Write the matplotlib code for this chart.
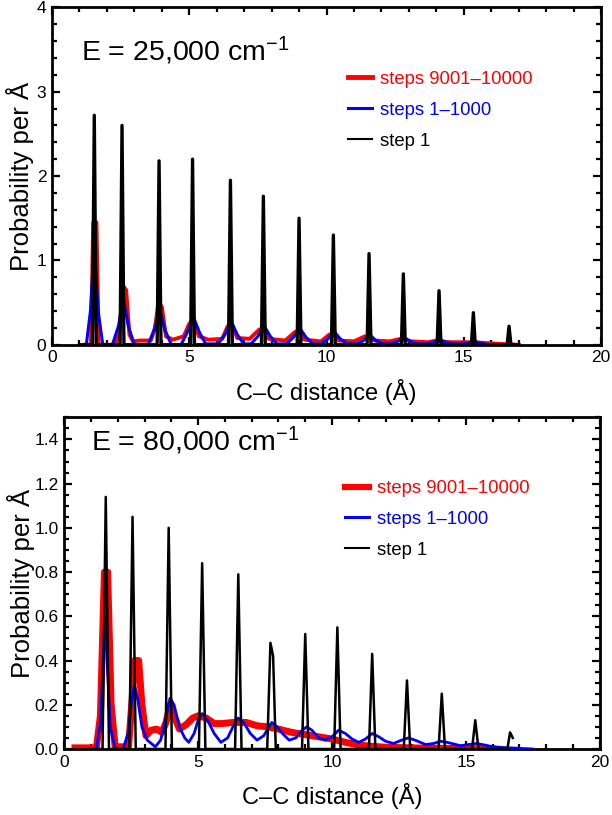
import matplotlib
matplotlib.use("Agg")
import matplotlib.pyplot as plt
from matplotlib.ticker import MultipleLocator, FormatStrFormatter

plt.rcParams['font.family'] = ['Liberation Sans', 'DejaVu Sans']
plt.rcParams['mathtext.fontset'] = 'custom'
plt.rcParams['mathtext.rm'] = 'Liberation Sans'
plt.rcParams['mathtext.it'] = 'Liberation Sans:italic'
plt.rcParams['mathtext.bf'] = 'Liberation Sans:bold'

# ---------------- data: top panel (E = 25,000 cm^-1) ----------------
top_black_x = [1.0, 1.47, 1.54, 1.61, 2.48, 2.55, 2.62, 3.83, 3.90, 3.97,
               5.05, 5.12, 5.19, 6.43, 6.50, 6.57, 7.63, 7.70, 7.77,
               8.93, 9.00, 9.07, 10.18, 10.25, 10.32, 11.48, 11.55, 11.62,
               12.73, 12.80, 12.87, 14.03, 14.10, 14.17, 15.28, 15.35, 15.42,
               16.58, 16.65, 16.72, 17.0]
top_black_y = [0, 0, 2.72, 0, 0, 2.60, 0, 0, 2.18, 0,
               0, 2.20, 0, 0, 1.95, 0, 0, 1.76, 0,
               0, 1.50, 0, 0, 1.30, 0, 0, 1.08, 0,
               0, 0.84, 0, 0, 0.64, 0, 0, 0.38, 0,
               0, 0.22, 0, 0]

top_red_x = [1.2, 1.42, 1.50, 1.62, 1.70, 2.30, 2.45, 2.58, 2.70, 2.82, 2.95,
             3.20, 3.60, 3.75, 3.88, 4.00, 4.15, 4.40, 4.80, 5.00, 5.15, 5.35,
             5.70, 6.20, 6.40, 6.55, 6.75, 7.20, 7.55, 7.70, 7.90, 8.50, 8.85,
             9.00, 9.20, 9.80, 10.10, 10.25, 10.45, 11.00, 11.40, 11.55, 11.75,
             12.30, 12.70, 12.85, 13.10, 13.70, 14.00, 14.20, 14.50, 15.20,
             15.40, 15.80, 16.30, 17.00]
top_red_y = [0, 0, 1.45, 1.45, 0, 0, 0.12, 0.70, 0.65, 0.12, 0.04,
             0.05, 0.05, 0.20, 0.50, 0.45, 0.10, 0.06, 0.10, 0.25, 0.30, 0.10,
             0.06, 0.07, 0.22, 0.25, 0.08, 0.07, 0.18, 0.20, 0.07, 0.05, 0.15,
             0.17, 0.06, 0.04, 0.12, 0.13, 0.05, 0.04, 0.10, 0.10, 0.05,
             0.04, 0.07, 0.06, 0.04, 0.03, 0.05, 0.04, 0.03, 0.03,
             0.03, 0.02, 0.01, 0.0]

top_blue_x = [1.25, 1.40, 1.54, 1.68, 1.85,
              2.20, 2.42, 2.60, 2.78, 3.00,
              3.50, 3.72, 3.92, 4.12, 4.35,
              4.70, 4.92, 5.15, 5.38, 5.60,
              6.05, 6.30, 6.52, 6.75, 6.98,
              7.25, 7.50, 7.72, 7.95, 8.20,
              8.55, 8.80, 9.02, 9.25, 9.50,
              9.80, 10.05, 10.27, 10.50, 10.75,
              11.10, 11.35, 11.57, 11.80, 12.05,
              12.35, 12.60, 12.82, 13.05, 13.30,
              13.65, 13.90, 14.12, 14.35, 14.60,
              14.95, 15.20, 15.37, 15.60, 15.85, 17.0]
top_blue_y = [0, 0.40, 1.20, 0.40, 0,
              0, 0.22, 0.55, 0.22, 0,
              0, 0.17, 0.42, 0.17, 0,
              0, 0.14, 0.33, 0.14, 0.01,
              0.01, 0.12, 0.28, 0.12, 0.01,
              0.01, 0.10, 0.23, 0.10, 0.01,
              0.01, 0.09, 0.20, 0.09, 0.01,
              0.01, 0.07, 0.16, 0.07, 0.01,
              0.01, 0.05, 0.12, 0.05, 0.01,
              0.01, 0.04, 0.09, 0.04, 0.01,
              0.01, 0.03, 0.06, 0.03, 0.01,
              0.01, 0.02, 0.04, 0.02, 0.005, 0.0]

# ---------------- data: bottom panel (E = 80,000 cm^-1) ----------------
bot_black_x = [1.0, 1.43, 1.55, 1.67, 2.43, 2.55, 2.67, 3.78, 3.90, 4.02,
               5.03, 5.15, 5.27, 6.38, 6.50, 6.62, 7.58, 7.70, 7.80, 7.90,
               8.88, 9.00, 9.12, 10.08, 10.20, 10.32, 11.38, 11.50, 11.62,
               12.68, 12.80, 12.92, 13.98, 14.10, 14.22, 15.23, 15.35, 15.47,
               16.55, 16.65, 16.75, 16.75]
bot_black_y = [0, 0, 1.14, 0, 0, 1.05, 0, 0, 1.00, 0,
               0, 0.84, 0, 0, 0.79, 0, 0, 0.48, 0.42, 0,
               0, 0.52, 0, 0, 0.55, 0, 0, 0.43, 0,
               0, 0.31, 0, 0, 0.25, 0, 0, 0.13, 0,
               0, 0.075, 0.05, 0.05]

bot_red_x = [0.40, 1.20, 1.35, 1.50, 1.62, 1.75, 1.90, 2.40, 2.55, 2.62,
             2.78, 2.90, 3.05, 3.25, 3.45, 3.65, 3.80, 3.95, 4.10, 4.30,
             4.55, 4.80, 5.00, 5.30, 5.60, 5.90, 6.30, 6.80, 7.20, 7.60,
             8.00, 8.50, 9.00, 9.50, 10.00, 10.50, 11.00, 11.50, 12.00,
             13.00, 14.00, 15.00, 16.00]
bot_red_y = [0.005, 0.005, 0.15, 0.80, 0.80, 0.20, 0.01, 0.01, 0.25, 0.40,
             0.40, 0.20, 0.06, 0.085, 0.09, 0.075, 0.12, 0.20, 0.15, 0.09,
             0.11, 0.14, 0.15, 0.14, 0.115, 0.115, 0.12, 0.12, 0.105, 0.10,
             0.09, 0.075, 0.065, 0.055, 0.045, 0.03, 0.018, 0.012, 0.008,
             0.005, 0.003, 0.002, 0.0]

bot_blue_x = [1.20, 1.35, 1.45, 1.52, 1.60, 1.72, 1.90, 2.20, 2.40, 2.52,
              2.62, 2.75, 2.90, 3.10, 3.40, 3.60, 3.80, 3.95, 4.10, 4.30,
              4.50, 4.65, 4.85, 5.00, 5.15, 5.35, 5.60, 5.85, 6.10, 6.30,
              6.50, 6.70, 6.95, 7.20, 7.45, 7.60, 7.75, 7.95, 8.15, 8.40,
              8.65, 8.85, 9.05, 9.25, 9.50, 9.75, 10.00, 10.25, 10.50,
              10.75, 11.00, 11.25, 11.50, 11.75, 12.00, 12.30, 12.60, 12.85,
              13.10, 13.50, 13.80, 14.05, 14.30, 14.80, 15.10, 15.40, 15.70,
              16.00, 16.50, 17.00, 17.50]
bot_blue_y = [0.0, 0.12, 0.40, 0.60, 0.40, 0.10, 0.0, 0.0, 0.08, 0.22,
              0.29, 0.22, 0.10, 0.04, 0.01, 0.04, 0.14, 0.23, 0.20, 0.10,
              0.05, 0.03, 0.07, 0.13, 0.16, 0.13, 0.07, 0.03, 0.05, 0.10,
              0.14, 0.12, 0.07, 0.04, 0.06, 0.09, 0.12, 0.10, 0.07, 0.04,
              0.05, 0.08, 0.10, 0.085, 0.05, 0.04, 0.055, 0.085, 0.07,
              0.045, 0.03, 0.045, 0.07, 0.055, 0.035, 0.025, 0.04, 0.05,
              0.04, 0.02, 0.025, 0.035, 0.03, 0.015, 0.02, 0.025, 0.018,
              0.01, 0.006, 0.003, 0.0]

labels = ["steps 9001\u201310000", "steps 1\u20131000", "step 1"]
colors = ["#ff0000", "#0000ff", "#000000"]

fig = plt.figure(figsize=(6.12, 8.15), dpi=100)
ax1 = fig.add_axes([0.085, 0.577, 0.897, 0.414])
ax2 = fig.add_axes([0.105, 0.081, 0.875, 0.407])


def style(ax, ymax, ymaj, ymin, fmt, ylab_x):
    ax.set_xlim(0, 20)
    ax.set_ylim(0, ymax)
    ax.xaxis.set_major_locator(MultipleLocator(5))
    ax.xaxis.set_minor_locator(MultipleLocator(1))
    ax.yaxis.set_major_locator(MultipleLocator(ymaj))
    ax.yaxis.set_minor_locator(MultipleLocator(ymin))
    ax.yaxis.set_major_formatter(FormatStrFormatter(fmt))
    ax.tick_params(which='both', direction='in', top=True, right=True,
                   labelsize=12.5, width=1.6, colors='black')
    ax.tick_params(which='major', length=6, pad=4)
    ax.tick_params(which='minor', length=3.5)
    for sp in ax.spines.values():
        sp.set_linewidth(2.0)
    ax.set_xlabel("C\u2013C distance (\u00c5)", fontsize=17, labelpad=10)
    ax.set_ylabel("Probability per \u00c5", fontsize=18.5)
    ax.yaxis.set_label_coords(ylab_x, 0.5)


# top panel
ax1.plot(top_red_x, top_red_y, color=colors[0], lw=2.8, label=labels[0], zorder=2)
ax1.plot(top_blue_x, top_blue_y, color=colors[1], lw=2.2, label=labels[1], zorder=3)
ax1.plot(top_black_x, top_black_y, color=colors[2], lw=2.4, label=labels[2], zorder=4)
style(ax1, 4, 1, 0.2, '%d', -0.032)
ax1.text(0.053, 0.872, "E = 25,000 cm$^{-1}$", transform=ax1.transAxes,
         fontsize=20.5, va='center', ha='left')

# bottom panel
ax2.plot(bot_red_x, bot_red_y, color=colors[0], lw=5.0, label=labels[0], zorder=2)
ax2.plot(bot_blue_x, bot_blue_y, color=colors[1], lw=2.0, label=labels[1], zorder=3)
ax2.plot(bot_black_x, bot_black_y, color=colors[2], lw=1.8, label=labels[2], zorder=4)
style(ax2, 1.5, 0.2, 0.05, '%.1f', -0.055)
ax2.text(0.05, 0.93, "E = 80,000 cm$^{-1}$", transform=ax2.transAxes,
         fontsize=20.5, va='center', ha='left')

for ax, anchor, lws in [(ax1, (0.515, 0.85), [3.5, 2.2, 1.5]),
                        (ax2, (0.5, 0.85), [4.5, 2.2, 1.5])]:
    leg = ax.legend(loc='upper left', bbox_to_anchor=anchor, frameon=False,
                    fontsize=13.3, handlelength=1.3, handletextpad=0.45,
                    labelspacing=0.75, labelcolor=colors, borderpad=0.2)
    for h, lw in zip(leg.get_lines(), lws):
        h.set_linewidth(lw)

fig.savefig("out.png", dpi=100)
